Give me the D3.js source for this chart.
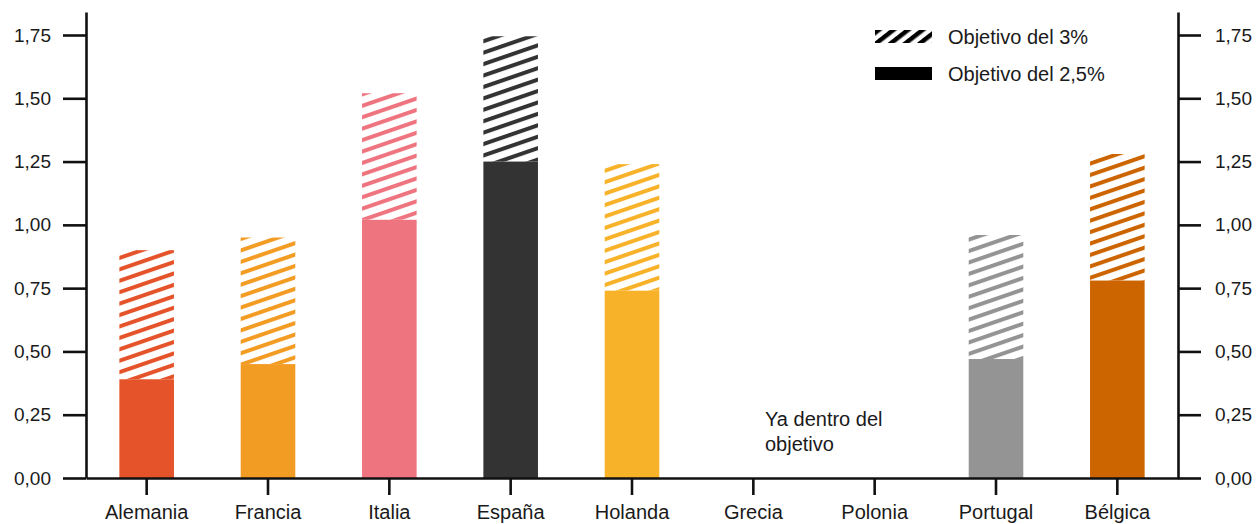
<!DOCTYPE html>
<html>
<head>
<meta charset="utf-8">
<script src="https://cdn.jsdelivr.net/npm/d3@7"></script>
<style>
  body { margin: 0; background: #fff; }
  text { font-family: "Liberation Sans", Arial, sans-serif; fill: #1a1a1a; }
</style>
</head>
<body>
<svg id="chart" width="1257" height="524"></svg>
<script>
var paises = ['Alemania', 'Francia', 'Italia', 'España', 'Holanda', 'Grecia', 'Polonia', 'Portugal', 'Bélgica'];
// objetivo del 2,5% (barra sólida)
var objetivo25 = [0.39, 0.45, 1.02, 1.25, 0.74, 0, 0, 0.47, 0.78];
// objetivo del 3% (altura total, parte rayada encima)
var objetivo3 = [0.90, 0.95, 1.52, 1.745, 1.24, 0, 0, 0.96, 1.28];
var colores = ['#e4532a', '#f39c24', '#ee7580', '#333333', '#f7b229', '#999', '#999', '#949494', '#cc6500'];
var yTicks = [0, 0.25, 0.5, 0.75, 1, 1.25, 1.5, 1.75];
var leyenda = ['Objetivo del 3%', 'Objetivo del 2,5%'];
var nota = ['Ya dentro del', 'objetivo'];

var margin = { top: 12, right: 79, bottom: 46, left: 86 },
  width = 1257,
  height = 524;

var svg = d3.select('#chart');
var defs = svg.append('defs');

var xScale = d3.scaleBand()
  .domain(paises)
  .range([margin.left, width - margin.right])
  .paddingInner(0.55)
  .paddingOuter(0.275);

// 0 at y=478, 1.75 at y=35
var yScale = d3.scaleLinear()
  .domain([0, 1.75])
  .range([height - margin.bottom, 35]);

var fmt = function(d) { return d3.format('.2f')(d).replace('.', ','); };

// one stripe pattern per colour
function hatch(id, color, size, thick, angle) {
  var p = defs.append('pattern')
    .attr('id', id)
    .attr('patternUnits', 'userSpaceOnUse')
    .attr('width', 20)
    .attr('height', size)
    .attr('patternTransform', 'rotate(' + angle + ')');
  p.append('rect')
    .attr('x', 0).attr('y', 0)
    .attr('width', 20).attr('height', thick)
    .attr('fill', color);
}
paises.forEach(function(d, i) { hatch('h' + i, colores[i], 10.8, 4, -19); });
hatch('hLeg', '#000', 9, 4.5, -38);

var g = svg.append('g');

// hatched part (3% objective)
g.selectAll('.rayado')
  .data(paises)
  .enter().append('rect')
  .attr('class', 'rayado')
  .attr('x', function(d) { return xScale(d); })
  .attr('width', xScale.bandwidth())
  .attr('y', function(d, i) { return yScale(objetivo3[i]); })
  .attr('height', function(d, i) { return Math.max(0, yScale(objetivo25[i]) - yScale(objetivo3[i])); })
  .attr('fill', function(d, i) { return 'url(#h' + i + ')'; });

// solid part (2,5% objective)
g.selectAll('.solido')
  .data(paises)
  .enter().append('rect')
  .attr('class', 'solido')
  .attr('x', function(d) { return xScale(d); })
  .attr('width', xScale.bandwidth())
  .attr('y', function(d, i) { return yScale(objetivo25[i]); })
  .attr('height', function(d, i) { return yScale(0) - yScale(objetivo25[i]); })
  .attr('fill', function(d, i) { return colores[i]; });

// axes: domain lines run up past 1.75 to the top
var yAxisScale = yScale.copy().domain([0, yScale.invert(margin.top)]).range([yScale(0), margin.top]);
var yLeft = d3.axisLeft(yAxisScale).tickValues(yTicks).tickFormat(fmt).tickSize(23).tickPadding(12).tickSizeOuter(0);
var yRight = d3.axisRight(yAxisScale).tickValues(yTicks).tickFormat(fmt).tickSize(23).tickPadding(14).tickSizeOuter(0);
var xAxis = d3.axisBottom(xScale).tickSize(17).tickPadding(10).tickSizeOuter(0);

function style(sel, size) {
  sel.selectAll('path, line').attr('stroke', '#111').attr('stroke-width', 2.6);
  sel.selectAll('text').attr('fill', '#1a1a1a').style('font-size', size + 'px');
}

svg.append('g')
  .attr('transform', 'translate(' + margin.left + ',0)')
  .call(yLeft).call(style, 19);

svg.append('g')
  .attr('transform', 'translate(' + (width - margin.right) + ',0)')
  .call(yRight).call(style, 19);

svg.append('g')
  .attr('transform', 'translate(0,' + yScale(0) + ')')
  .call(xAxis).call(style, 20);

// legend
var leg = svg.append('g').attr('transform', 'translate(875,30)');
leg.append('rect').attr('x', 0).attr('y', 0).attr('width', 57).attr('height', 13).attr('fill', 'url(#hLeg)');
leg.append('rect').attr('x', 0).attr('y', 37).attr('width', 57).attr('height', 13).attr('fill', '#000');
leg.selectAll('.legtxt')
  .data(leyenda)
  .enter().append('text')
  .attr('x', 73)
  .attr('y', function(d, i) { return 7 + i * 37; })
  .attr('dy', '0.35em')
  .style('font-size', '20px')
  .text(function(d) { return d; });

// note for Grecia / Polonia
svg.append('text')
  .attr('x', 765)
  .attr('y', 426)
  .style('font-size', '20px')
  .selectAll('tspan')
  .data(nota)
  .enter().append('tspan')
  .attr('x', 765)
  .attr('dy', function(d, i) { return i ? 25 : 0; })
  .text(function(d) { return d; });
</script>
</body>
</html>
